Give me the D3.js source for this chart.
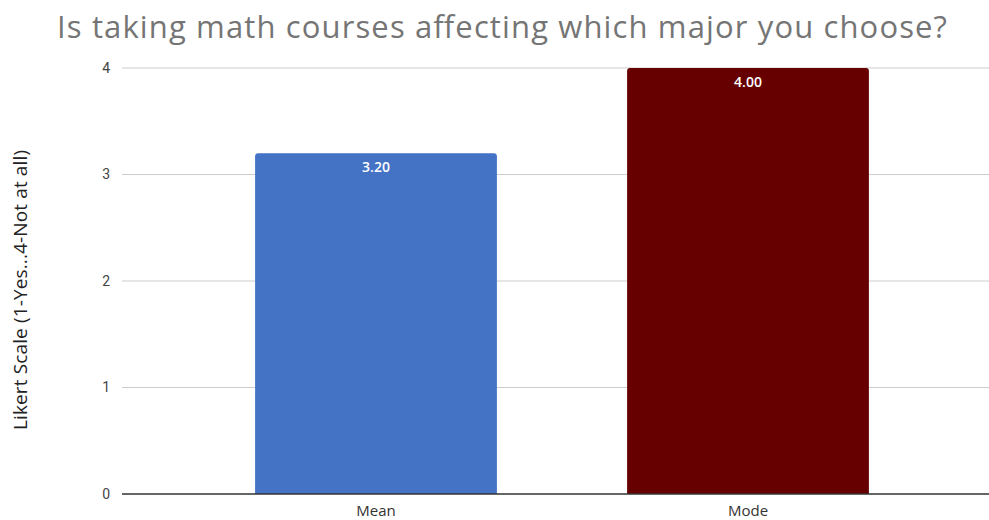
<!DOCTYPE html>
<html>
<head>
<meta charset="utf-8">
<script src="https://cdnjs.cloudflare.com/ajax/libs/d3/7.8.5/d3.min.js"></script>
<style>
  body { margin: 0; background: #fff; }
  text { font-family: "Open Sans", sans-serif; }
</style>
</head>
<body>
<script>
// chart data
const categories = ['Mean', 'Mode'];
const values = [3.20, 4.00];
const barColors = ['#4472c4', '#660000'];
const yTicks = [0, 1, 2, 3, 4];

const width = 989, height = 520;

const svg = d3.select('body').append('svg')
  .attr('width', width)
  .attr('height', height);

// scales
const x = d3.scaleBand()
  .domain(categories)
  .range([190, 934])
  .paddingInner(0.35)
  .paddingOuter(0.175);

const y = d3.scaleLinear()
  .domain([0, 4])
  .range([494, 68]);

// title
svg.append('text')
  .attr('x', 502)
  .attr('y', 38)
  .attr('text-anchor', 'middle')
  .attr('fill', '#757575')
  .attr('textLength', 890)
  .attr('lengthAdjust', 'spacing')
  .style('font-size', '31px')
  .text('Is taking math courses affecting which major you choose?');

// y axis label
svg.append('text')
  .attr('transform', 'translate(27,290) rotate(-90)')
  .attr('text-anchor', 'middle')
  .attr('fill', '#222')
  .attr('textLength', 280)
  .attr('lengthAdjust', 'spacing')
  .style('font-size', '19px')
  .text('Likert Scale (1-Yes...4-Not at all)');

// gridlines
svg.append('g')
  .selectAll('line')
  .data(yTicks.filter(d => d > 0))
  .join('line')
  .attr('x1', 122).attr('x2', width)
  .attr('y1', d => y(d)).attr('y2', d => y(d))
  .attr('stroke', '#cccccc')
  .attr('stroke-width', 1);

// y tick labels
const yAxis = d3.axisLeft(y).tickValues(yTicks).tickSize(0).tickPadding(0).tickFormat(d3.format('d'));
const gy = svg.append('g')
  .attr('transform', 'translate(110,0)')
  .call(yAxis);
gy.select('.domain').remove();
gy.selectAll('text')
  .attr('fill', '#444')
  .style('font-size', '14px')
  .style('font-family', 'Roboto, sans-serif');

// bars, rounded top corners
const r = 3;
function barPath(d, i) {
  const x0 = x(categories[i]), w = x.bandwidth();
  const top = y(d), bot = y(0);
  return `M${x0},${bot} L${x0},${top + r} Q${x0},${top} ${x0 + r},${top}
          L${x0 + w - r},${top} Q${x0 + w},${top} ${x0 + w},${top + r} L${x0 + w},${bot} Z`;
}
svg.append('g')
  .selectAll('path')
  .data(values)
  .join('path')
  .attr('d', barPath)
  .attr('fill', (d, i) => barColors[i]);

// value labels
svg.append('g')
  .selectAll('text')
  .data(values)
  .join('text')
  .attr('x', (d, i) => x(categories[i]) + x.bandwidth() / 2)
  .attr('y', d => y(d) + 19)
  .attr('text-anchor', 'middle')
  .attr('fill', '#fff')
  .style('font-size', '14px')
  .style('font-weight', '600')
  .text(d => d.toFixed(2));

// x axis
const gx = svg.append('g')
  .attr('transform', `translate(0,${y(0)})`)
  .call(d3.axisBottom(x).tickSize(0).tickPadding(11));
gx.select('.domain').remove();
gx.selectAll('text')
  .attr('fill', '#333')
  .style('font-size', '15px')
  .style('font-family', '"Open Sans", sans-serif');
svg.append('line')
  .attr('x1', 122).attr('x2', width)
  .attr('y1', y(0)).attr('y2', y(0))
  .attr('stroke', '#333')
  .attr('stroke-width', 1.5);
</script>
</body>
</html>
